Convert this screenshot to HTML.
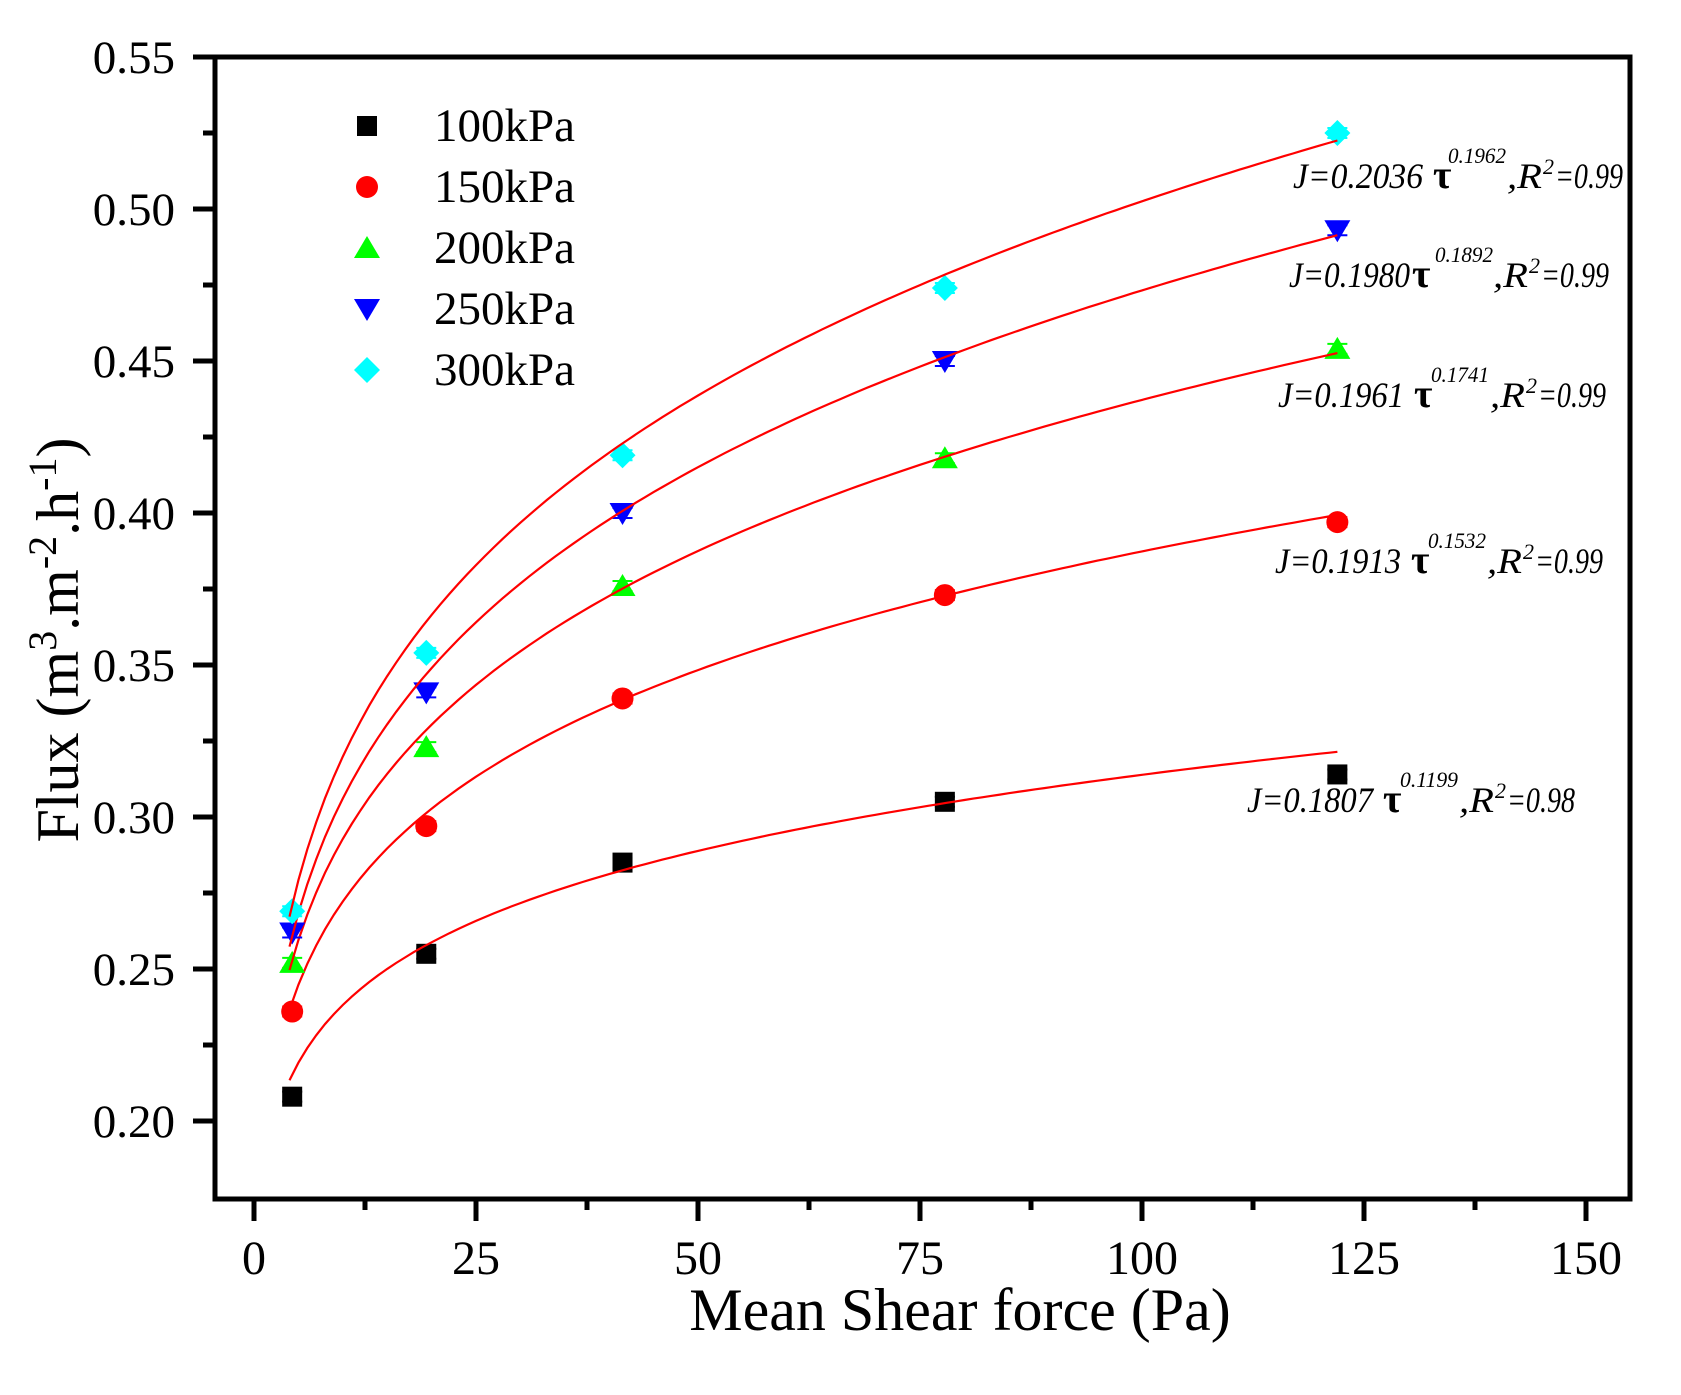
<!DOCTYPE html>
<html><head><meta charset="utf-8"><style>
html,body{margin:0;padding:0;background:#fff;}
svg{display:block;font-family:"Liberation Serif",serif;}
</style></head><body>
<svg id="s" width="1681" height="1395" viewBox="0 0 1681 1395" xmlns="http://www.w3.org/2000/svg">
<rect x="0" y="0" width="1681" height="1395" fill="#fff"/>
<g id="g"></g>
<rect x="215" y="57" width="1415" height="1142" fill="none" stroke="#000" stroke-width="5"/>
<g font-size="47" fill="#000" text-anchor="end" id="yt"></g>
<g font-size="48" fill="#000" text-anchor="middle" id="xt"></g>
<text x="960" y="1330" font-size="60" text-anchor="middle">Mean Shear force (Pa)</text>
<text transform="translate(78,640) rotate(-90)" font-size="60" text-anchor="middle">Flux (m<tspan font-size="40" dy="-22">3</tspan><tspan dy="22">.m</tspan><tspan font-size="40" dy="-22">-2</tspan><tspan dy="22">.h</tspan><tspan font-size="40" dy="-22">-1</tspan><tspan dy="22">)</tspan></text>
<g font-size="47">
<text x="434" y="141">100kPa</text>
<text x="434" y="202">150kPa</text>
<text x="434" y="263">200kPa</text>
<text x="434" y="324">250kPa</text>
<text x="434" y="385">300kPa</text>
</g>
<g id="eq" font-style="italic"></g>
</svg>
<script>
var NS="http://www.w3.org/2000/svg",g=document.getElementById('g');
function X(x){return 254+x*8.88}function Y(v){return 57+(0.55-v)*3040}
function el(t,a,p){var e=document.createElementNS(NS,t);for(var k in a)e.setAttribute(k,a[k]);(p||g).appendChild(e);return e}
var yt=document.getElementById('yt'),xt=document.getElementById('xt'),eq=document.getElementById('eq');
for(var i=0;i<=14;i++){var v=0.20+i*0.025,y=Y(v);if(y<1199){var maj=i%2==0;el('line',{x1:maj?193:203,x2:215,y1:y,y2:y,stroke:'#000','stroke-width':5});if(maj){var t=el('text',{x:175,y:y+16},yt);t.textContent=v.toFixed(2);}}}
for(var i=0;i<=12;i++){var x=X(i*12.5),maj=i%2==0;el('line',{x1:x,x2:x,y1:1199,y2:maj?1221:1210,stroke:'#000','stroke-width':5});if(maj){var t=el('text',{x:x,y:1274},xt);t.textContent=i*12.5;}}
function txt(x,y,s,fs,w,extra){var a={x:x,y:y,'font-size':fs};if(w){a.textLength=w;a.lengthAdjust='spacingAndGlyphs';}for(var k in extra)a[k]=extra[k];var t=el('text',a,eq);t.textContent=s;return t;}
[[1293,188,'J=0.2036','0.1962','0.99',140,155,214],
 [1289,287,'J=0.1980','0.1892','0.99',123,146,204],
 [1278,407,'J=0.1961','0.1741','0.99',136,153,212],
 [1275,573,'J=0.1913','0.1532','0.99',136,153,212],
 [1247,812,'J=0.1807','0.1199','0.98',136,153,212]].forEach(function(e){
 var x=e[0],y=e[1];
 txt(x,y,e[2],36,e[5]-(e[5]>130?10:2));
 txt(x+e[5],y,'τ',40,null,{'font-style':'normal','font-weight':'bold'});
 txt(x+e[6],y-25,e[3],22,58);
 txt(x+e[7],y,',R',36,35);
 txt(x+e[7]+36,y-14,'2',22);
 txt(x+e[7]+48,y,'='+e[4],36,68);
});
var xs=[4.3,19.4,41.5,77.8,122];
var S=[
{c:'#000',m:'s',a:0.1807,b:0.1199,v:[0.208,0.255,0.285,0.305,0.314]},
{c:'#ff0000',m:'c',a:0.1913,b:0.1532,v:[0.236,0.297,0.339,0.373,0.397]},
{c:'#00ff00',m:'t',a:0.1961,b:0.1741,v:[0.252,0.323,0.376,0.418,0.454]},
{c:'#0000ff',m:'d',a:0.1980,b:0.1892,v:[0.262,0.341,0.400,0.450,0.493]},
{c:'#00ffff',m:'r',a:0.2036,b:0.1962,v:[0.269,0.354,0.419,0.474,0.525]}];
function mk(m,x,y,c){
 if(m=='s')el('rect',{x:x-10,y:y-10,width:20,height:20,fill:c});
 else if(m=='c')el('circle',{cx:x,cy:y,r:11,fill:c});
 else if(m=='t')el('polygon',{points:(x)+','+(y-12)+' '+(x+13)+','+(y+10)+' '+(x-13)+','+(y+10),fill:c});
 else if(m=='d')el('polygon',{points:(x)+','+(y+12)+' '+(x+13)+','+(y-10)+' '+(x-13)+','+(y-10),fill:c});
 else el('polygon',{points:(x)+','+(y-13)+' '+(x+13)+','+y+' '+x+','+(y+13)+' '+(x-13)+','+y,fill:c});}
S.forEach(function(s,k){
 for(var i=0;i<5;i++){var x=X(xs[i]),y=Y(s.v[i]);el('line',{x1:x-10,x2:x+10,y1:y+5,y2:y+5,stroke:s.c,'stroke-width':2});el('line',{x1:x-10,x2:x+10,y1:y-5,y2:y-5,stroke:s.c,'stroke-width':2});mk(s.m,x,y,s.c);}
 var d='';for(var t=4;t<=122;t+=1){d+=(t==4?'M':'L')+X(t).toFixed(1)+','+Y(s.a*Math.pow(t,s.b)).toFixed(1);}
 el('path',{d:d,fill:'none',stroke:'#ff0000','stroke-width':2.2});
 mk(s.m,367,126+k*61,s.c);
});
</script>
</body></html>
